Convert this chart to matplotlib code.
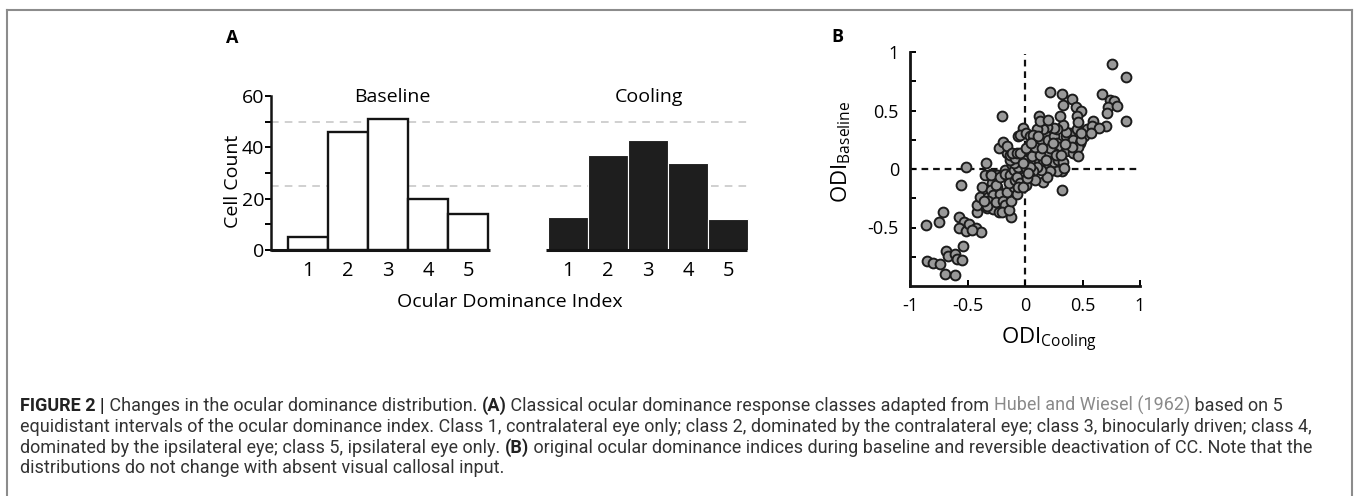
import numpy as np
import matplotlib.pyplot as plt
from matplotlib.lines import Line2D

plt.rcParams['font.family'] = ['Open Sans', 'DejaVu Sans']
plt.rcParams['mathtext.fontset'] = 'custom'
plt.rcParams['mathtext.rm'] = 'Open Sans'

W, H = 1357, 496

# panel A: cell counts per ocular dominance class
classes = [1, 2, 3, 4, 5]
baseline_counts = [5, 46, 51, 20, 14]
cooling_counts = [13, 37, 43, 34, 12]

# panel B: ODI per cell
odi_cooling = [
    -0.86, -0.75, -0.71, -0.85, -0.80, -0.74, -0.69, -0.67, -0.61, -0.59, -0.55, -0.54,
    -0.70, -0.61, -0.57, -0.53, -0.57, -0.51, -0.49, -0.43, -0.38, -0.46, -0.56, -0.51,
    -0.42, -0.42, -0.39, -0.37, -0.33, -0.28, -0.23, -0.17, -0.13, -0.12, -0.15, -0.32,
    -0.26, -0.20, -0.35, -0.30, -0.24, -0.17, -0.11, -0.04, -0.07, -0.03, -0.29, -0.24,
    -0.34, -0.30, -0.30, -0.28, -0.32, -0.33, -0.36, -0.25, -0.22, -0.25, -0.19, -0.17,
    -0.20, -0.14, -0.12, -0.16, -0.10, -0.22, -0.17, -0.13, -0.14, -0.09, -0.10, -0.07,
    -0.04, -0.06, -0.10, -0.13, -0.16, -0.23, -0.19, -0.16, -0.13, -0.09, -0.06, -0.02,
    -0.11, -0.07, -0.04, 0.01, 0.04, 0.07, 0.10, 0.14, 0.17, 0.20, 0.25, 0.28,
    0.30, 0.36, 0.39, 0.42, 0.48, 0.51, 0.45, 0.36, 0.33, 0.28, 0.25, 0.19,
    0.16, 0.10, 0.07, 0.04, 0.09, 0.12, 0.16, 0.20, 0.25, 0.29, 0.33, 0.32,
    0.16, 0.28, 0.22, 0.19, 0.14, 0.10, 0.07, 0.04, 0.01, -0.01, -0.04, 0.01,
    0.06, -0.07, -0.06, 0.01, -0.02, 0.04, 0.09, 0.36, 0.42, 0.46, 0.49, 0.41,
    0.35, 0.25, 0.19, 0.13, 0.09, 0.22, 0.02, 0.03, -0.02, 0.05, 0.11, 0.15,
    0.24, 0.18, 0.27, 0.31, 0.34, -0.20, 0.12, 0.13, 0.22, 0.32, 0.33, 0.30,
    0.20, 0.41, 0.44, 0.49, 0.45, 0.46, 0.46, 0.32, 0.76, 0.88, 0.88, 0.67,
    0.74, 0.77, 0.72, 0.71, 0.80, 0.70, 0.59, 0.54, 0.58, 0.64, 0.49, 0.57,
]
odi_baseline = [
    -0.48, -0.45, -0.37, -0.79, -0.80, -0.81, -0.70, -0.74, -0.73, -0.77, -0.78, -0.66,
    -0.90, -0.91, -0.41, -0.45, -0.50, -0.53, -0.47, -0.50, -0.54, -0.52, -0.14, 0.02,
    -0.37, -0.31, -0.24, -0.15, -0.33, -0.34, -0.37, -0.30, -0.27, -0.41, -0.34, -0.24,
    -0.20, -0.21, -0.05, -0.04, -0.05, -0.01, 0.03, 0.01, -0.11, -0.14, -0.12, -0.15,
    0.05, -0.05, -0.18, -0.22, -0.27, -0.32, -0.27, -0.14, -0.21, -0.28, -0.27, -0.31,
    -0.37, -0.35, -0.27, -0.20, -0.15, -0.07, -0.04, -0.05, -0.12, -0.09, -0.01, -0.07,
    -0.12, 0.02, 0.05, 0.08, 0.14, 0.18, 0.23, 0.20, 0.12, 0.09, 0.28, 0.35,
    0.14, 0.14, 0.29, 0.31, 0.28, 0.25, 0.19, 0.25, 0.31, 0.25, 0.28, 0.22,
    0.19, 0.28, 0.31, 0.25, 0.22, 0.28, 0.34, 0.32, 0.38, 0.34, 0.35, 0.36,
    0.34, 0.34, 0.29, 0.15, 0.11, 0.08, 0.05, 0.02, 0.06, 0.08, 0.06, -0.02,
    -0.11, -0.02, -0.02, -0.07, -0.01, 0.02, -0.02, -0.07, 0.01, 0.08, 0.14, 0.18,
    0.11, -0.21, -0.15, -0.14, -0.15, 0.02, -0.09, 0.15, 0.14, 0.19, 0.25, 0.19,
    0.21, 0.14, 0.14, 0.12, 0.19, 0.18, -0.08, -0.03, 0.05, 0.22, 0.28, 0.18,
    0.22, 0.08, 0.12, 0.12, 0.01, 0.45, 0.45, 0.41, 0.66, 0.64, 0.55, 0.45,
    0.42, 0.60, 0.53, 0.50, 0.45, 0.40, 0.11, -0.18, 0.90, 0.79, 0.41, 0.64,
    0.59, 0.58, 0.53, 0.48, 0.54, 0.37, 0.41, 0.34, 0.37, 0.35, 0.31, 0.31,
]

caption_lines = [
    [("FIGURE 2 |", True, '#222222'),
     (" Changes in the ocular dominance distribution. ", False, '#333333'),
     ("(A)", True, '#222222'),
     (" Classical ocular dominance response classes adapted from ", False, '#333333'),
     ("Hubel and Wiesel (1962)", False, '#8a8a8a'),
     (" based on 5", False, '#333333')],
    [("equidistant intervals of the ocular dominance index. Class 1, contralateral eye only; "
      "class 2, dominated by the contralateral eye; class 3, binocularly driven; class 4,", False, '#333333')],
    [("dominated by the ipsilateral eye; class 5, ipsilateral eye only. ", False, '#333333'),
     ("(B)", True, '#222222'),
     (" original ocular dominance indices during baseline and reversible deactivation of CC. Note that the", False, '#333333')],
    [("distributions do not change with absent visual callosal input.", False, '#333333')],
]

fig = plt.figure(figsize=(W / 100, H / 100), dpi=100)


def box(x0, y0, x1, y1):
    return [x0 / W, 1 - y1 / H, (x1 - x0) / W, (y1 - y0) / H]


def fx(x):
    return x / W


def fy(y):
    return 1 - y / H


# ---- panel A ----
ax = fig.add_axes(box(271, 96, 750, 250))
base_x = np.array(classes, dtype=float)
cool_x = base_x + 6.5
for lvl in (25, 50):
    ax.plot([0.075, 11.975], [lvl, lvl], color='#c4c4c4', lw=1.1, dashes=(5, 4), zorder=1)
ax.bar(base_x, baseline_counts, width=1.0, color='white', edgecolor='#141414', lw=1.7, zorder=3)
ax.bar(cool_x, cooling_counts, width=1.0, color='#1e1e1e', edgecolor='white', lw=0.8, zorder=3)
ax.plot([0.075, 5.55], [0, 0], color='#141414', lw=2.2, clip_on=False, solid_capstyle='butt', zorder=4)
ax.plot([6.95, 11.975], [0, 0], color='#141414', lw=2.2, clip_on=False, solid_capstyle='butt', zorder=4)
ax.set_xlim(0.075, 12.05)
ax.set_ylim(0, 60)
for s in ('top', 'right', 'bottom'):
    ax.spines[s].set_visible(False)
ax.spines['left'].set_linewidth(1.8)
ax.spines['left'].set_color('#141414')
ax.set_xticks(list(base_x) + list(cool_x))
ax.set_xticklabels([str(c) for c in classes] * 2)
ax.tick_params(axis='x', length=0, pad=8, labelsize=14.5)
ax.set_yticks([0, 20, 40, 60])
ax.set_yticks([10, 30, 50], minor=True)
ax.tick_params(axis='y', which='both', direction='out', length=4, width=1.4, pad=1, labelsize=14)
ax.patch.set_alpha(0)

fig.text(fx(233), fy(181), "Cell Count", rotation=90, ha='center', va='center', fontsize=14)
fig.text(fx(392), fy(97), "Baseline", ha='center', va='center', fontsize=14)
fig.text(fx(649), fy(97), "Cooling", ha='center', va='center', fontsize=14)
fig.text(fx(510), fy(302), "Ocular Dominance Index", ha='center', va='center', fontsize=14)
fig.text(fx(232), fy(38), "A", ha='center', va='center', fontsize=13, fontweight='bold')

# ---- panel B ----
bx = fig.add_axes(box(910, 52, 1140, 286))
bx.plot([0, 0], [-1, 0.98], color='#111111', lw=1.6, dashes=(3, 2.2), zorder=1)
bx.plot([-1, 1], [0, 0], color='#111111', lw=1.6, dashes=(3, 2.2), zorder=1)
bx.scatter(odi_cooling, odi_baseline, s=50, c='#999999', edgecolors='#1c1c1c', linewidths=1.4, zorder=3, clip_on=False)
bx.set_xlim(-1, 1)
bx.set_ylim(-1, 1)
for s in ('top', 'right'):
    bx.spines[s].set_visible(False)
for s in ('left', 'bottom'):
    bx.spines[s].set_linewidth(2)
    bx.spines[s].set_color('#141414')
bx.set_xticks([-1, -0.5, 0, 0.5, 1])
bx.set_xticklabels(['-1', '-0.5', '0', '0.5', '1'])
bx.set_yticks([-0.5, 0, 0.5, 1])
bx.set_yticklabels(['-0.5', '0', '0.5', '1'])
bx.set_yticks([-0.75, -0.25, 0.25, 0.75], minor=True)
bx.tick_params(which='both', direction='in', length=4, width=1.4, labelsize=13)
bx.tick_params(axis='x', pad=8)
bx.tick_params(axis='y', pad=8)
bx.patch.set_alpha(0)

fig.text(fx(841), fy(152), r"ODI$_{\mathrm{Baseline}}$", rotation=90, ha='center', va='center', fontsize=16)
fig.text(fx(1049), fy(340), r"ODI$_{\mathrm{Cooling}}$", ha='center', va='center', fontsize=16)
fig.text(fx(837), fy(37), "B", ha='center', va='center', fontsize=13, fontweight='bold')

# ---- frame ----
frame_col = '#8c8c8c'
fig.add_artist(Line2D([fx(7), fx(7)], [fy(10), fy(500)], color=frame_col, lw=1.5))
fig.add_artist(Line2D([fx(7), fx(1352)], [fy(10), fy(10)], color=frame_col, lw=1.5))
fig.add_artist(Line2D([fx(1352), fx(1352)], [fy(10), fy(500)], color=frame_col, lw=1.5))

# ---- caption ----
cap_font = ['Roboto', 'DejaVu Sans']
renderer = fig.canvas.get_renderer()


def run_width(txt, bold, size):
    t1 = fig.text(0, 0, txt + '.', fontsize=size, family=cap_font, fontweight='bold' if bold else 'normal')
    t2 = fig.text(0, 0, '.', fontsize=size, family=cap_font, fontweight='bold' if bold else 'normal')
    w = t1.get_window_extent(renderer).width - t2.get_window_extent(renderer).width
    t1.remove()
    t2.remove()
    return w


ref = caption_lines[1][0][0]
cap_size = 10 * 1287 / run_width(ref, False, 10)

for i, line in enumerate(caption_lines):
    x = 20
    y = 411 + i * 20.8
    for txt, bold, col in line:
        fig.text(fx(x), fy(y), txt, fontsize=cap_size, family=cap_font,
                 fontweight='bold' if bold else 'normal', color=col, ha='left', va='baseline')
        x += run_width(txt, bold, cap_size)

fig.savefig('out.png', dpi=100)
